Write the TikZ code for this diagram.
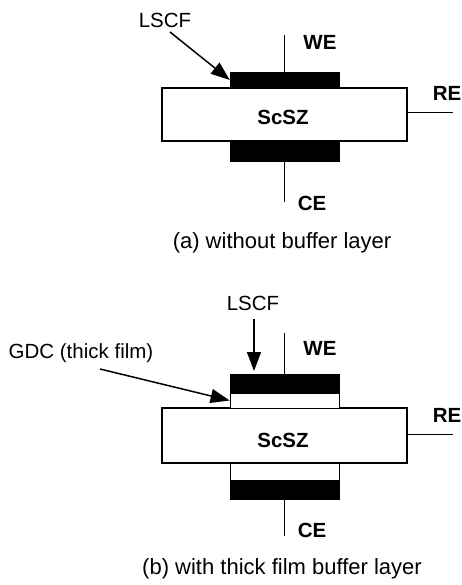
\documentclass[tikz,border=0pt]{standalone}
\usepackage{fontspec}
\setmainfont{Liberation Sans}
\usetikzlibrary{arrows.meta}
\begin{document}
\begin{tikzpicture}[x=1pt, y=-1pt,
    lbl/.style={inner sep=0pt, font=\fontsize{20.5}{24}\selectfont},
    tag/.style={inner sep=0pt, font=\fontsize{20.5}{24}\selectfont\bfseries},
    subcap/.style={inner sep=0pt, font=\fontsize{22}{26}\selectfont},
    elyt/.style={draw, line width=1.2pt, minimum width=245pt, inner sep=0pt},
    lscf/.style={fill=black, draw, minimum width=109pt, inner sep=0pt},
    gdc/.style={fill=white, draw, line width=0.8pt, minimum width=109pt, inner sep=0pt},
    wire/.style={line width=0.9pt},
    pointer/.style={line width=1.5pt, -{Triangle[length=19pt, width=14pt]}}]
    \useasboundingbox (0,0) rectangle (462,585);
    % (a) without buffer layer
    \node[elyt, minimum height=53pt] (scsz_a) at (284.5,114.5) {};
    \node[tag] at (283,117) {ScSZ};
    \node[lscf, minimum height=16pt] (we_a) at (284.5,80) {};
    \node[lscf, minimum height=20pt] (ce_a) at (284.5,151) {};
    \coordinate (we_a_end) at (284.5,35);
    \coordinate (ce_a_end) at (284.5,202);
    \coordinate (re_a_end) at (453,112);
    \draw[wire] (we_a.north) -- (we_a_end);
    \draw[wire] (ce_a.south) -- (ce_a_end);
    \draw[wire] (scsz_a.east |- re_a_end) -- (re_a_end);
    \node[tag] (we_a_lbl) at (320,42) {WE};
    \node[tag] (ce_a_lbl) at (312,203) {CE};
    \node[tag] (re_a_lbl) at (447,93) {RE};
    \node[lbl] (lscf_a_lbl) at (165,20) {LSCF};
    \coordinate (lscf_a_from) at (170,32);
    \draw[pointer] (lscf_a_from) -- (we_a.west);
    \node[subcap] (cap_a) at (282,243) {(a) without buffer layer};
    % (b) with thick film buffer layer
    \node[elyt, minimum height=55pt] (scsz_b) at (284.5,435.5) {};
    \node[tag] at (283,440) {ScSZ};
    \node[gdc, minimum height=15pt] (gdc_top) at (284.5,400.5) {};
    \node[lscf, minimum height=19pt] (we_b) at (284.5,383.5) {};
    \node[gdc, minimum height=17pt] (gdc_bot) at (284.5,471.5) {};
    \node[lscf, minimum height=19pt] (ce_b) at (284.5,489.5) {};
    \coordinate (we_b_end) at (284.5,333);
    \coordinate (ce_b_end) at (284.5,536);
    \coordinate (re_b_end) at (453,434);
    \draw[wire] (we_b.north) -- (we_b_end);
    \draw[wire] (ce_b.south) -- (ce_b_end);
    \draw[wire] (scsz_b.east |- re_b_end) -- (re_b_end);
    \node[tag] (we_b_lbl) at (320,348) {WE};
    \node[tag] (ce_b_lbl) at (312,530) {CE};
    \node[tag] (re_b_lbl) at (447,415) {RE};
    \node[lbl] (lscf_b_lbl) at (253,303) {LSCF};
    \node[lbl] (gdc_lbl) at (81,353) {GDC (thick film)};
    \coordinate (lscf_b_from) at (254,319);
    \coordinate (lscf_b_to) at (254,371);
    \coordinate (gdc_from) at (100,369);
    \draw[pointer] (lscf_b_from) -- (lscf_b_to);
    \draw[pointer] (gdc_from) -- (gdc_top.west);
    \node[subcap] (cap_b) at (282,569) {(b) with thick film buffer layer};
\end{tikzpicture}
\end{document}
